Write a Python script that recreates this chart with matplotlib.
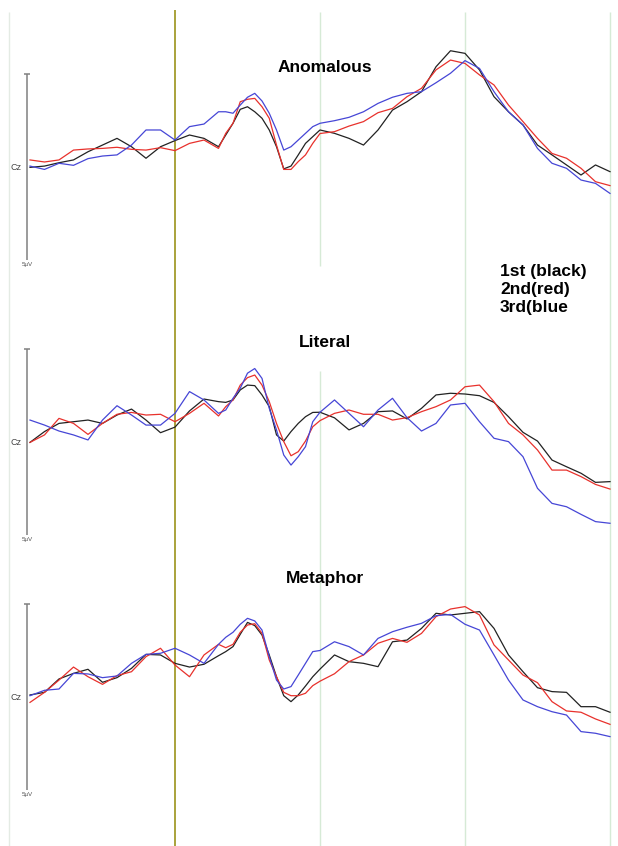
import numpy as np
import matplotlib.pyplot as plt

# ERP grand averages at Cz, one panel per condition (ms, µV);
# denser sampling around the P2/N400 deflections
times = ([-200, -180, -160, -140, -120, -100, -80, -60, -40, -20, 0, 20, 40]
         + [60, 70, 80, 90, 100, 110, 120, 130, 140, 150, 160, 170, 180, 190, 200]
         + [220, 240, 260, 280, 300, 320, 340, 360, 380, 400,
            420, 440, 460, 480, 500, 520, 540, 560, 580, 600])

anomalous_1st = [-0.02, 0.05, 0.23, 0.38, 0.82, 1.18, 1.54, 1.09, 0.47, 1.09, 1.42, 1.72, 1.54,
                 1.09, 1.72, 2.35, 3.10, 3.24, 2.97, 2.62, 1.99, 1.09, -0.10, 0.05, 0.65, 1.27, 1.63, 1.99,
                 1.81, 1.54, 1.18, 1.99, 3.06, 3.51, 4.05, 5.39, 6.25, 6.11,
                 5.22, 3.78, 2.97, 2.26, 1.18, 0.65, 0.11, -0.43, 0.11, -0.25]
anomalous_2nd = [0.38, 0.27, 0.38, 0.91, 0.97, 1.00, 1.06, 0.95, 0.91, 1.04, 0.88, 1.27, 1.45,
                 1.00, 1.81, 2.35, 3.51, 3.64, 3.69, 3.24, 2.62, 1.18, -0.13, -0.13, 0.29, 0.65, 1.27, 1.80,
                 1.90, 2.20, 2.44, 2.92, 3.15, 3.78, 4.23, 5.22, 5.75, 5.57,
                 4.95, 4.41, 3.33, 2.44, 1.54, 0.73, 0.47, -0.07, -0.79, -1.00]
anomalous_3rd = [0.05, -0.13, 0.20, 0.09, 0.45, 0.59, 0.65, 1.18, 1.99, 1.99, 1.45, 2.17, 2.31,
                 2.97, 2.97, 2.89, 3.33, 3.75, 3.96, 3.55, 2.89, 1.99, 0.91, 1.09, 1.45, 1.81, 2.17, 2.35,
                 2.49, 2.67, 2.97, 3.42, 3.75, 3.96, 4.05, 4.53, 5.04, 5.72,
                 5.30, 4.05, 2.97, 2.26, 1.00, 0.20, -0.07, -0.70, -0.88, -1.42]

literal_1st = [-0.02, 0.56, 1.00, 1.09, 1.18, 1.00, 1.45, 1.77, 1.18, 0.50, 0.80, 1.67, 2.31,
               2.17, 2.13, 2.26, 2.80, 3.06, 3.03, 2.53, 1.90, 0.38, 0.05, 0.56, 1.00, 1.36, 1.59, 1.60,
               1.30, 0.65, 1.00, 1.63, 1.67, 1.24, 1.81, 2.53, 2.62, 2.58,
               2.49, 2.13, 1.36, 0.52, 0.05, -0.97, -1.33, -1.68, -2.17, -2.13]
literal_2nd = [-0.02, 0.38, 1.27, 1.00, 0.41, 1.00, 1.49, 1.59, 1.45, 1.49, 1.09, 1.54, 2.08,
               1.40, 1.90, 2.26, 3.06, 3.46, 3.60, 3.06, 2.17, 1.00, 0.02, -0.74, -0.52, 0.05, 0.82, 1.15,
               1.54, 1.72, 1.49, 1.49, 1.18, 1.31, 1.63, 1.90, 2.26, 2.97,
               3.06, 2.17, 1.00, 0.38, -0.43, -1.51, -1.51, -1.86, -2.28, -2.53]
literal_3rd = [1.18, 0.91, 0.59, 0.38, 0.11, 1.18, 1.95, 1.45, 0.91, 0.91, 1.54, 2.71, 2.26,
               1.54, 1.72, 2.35, 2.89, 3.70, 3.95, 3.42, 1.81, 0.65, -0.70, -1.24, -0.79, -0.25, 1.09, 1.60,
               2.26, 1.54, 0.82, 1.72, 2.35, 1.31, 0.59, 1.00, 1.99, 2.08,
               1.09, 0.20, 0.02, -0.79, -2.49, -3.30, -3.48, -3.89, -4.28, -4.37]

metaphor_1st = [0.11, 0.25, 0.97, 1.27, 1.49, 0.79, 1.04, 1.54, 2.29, 2.26, 1.81, 1.61, 1.76,
                2.22, 2.44, 2.71, 3.37, 4.01, 3.84, 3.33, 2.26, 1.09, 0.07, -0.25, 0.11, 0.59, 1.09, 1.50,
                2.26, 1.90, 1.81, 1.63, 2.97, 3.06, 3.69, 4.50, 4.41, 4.50,
                4.59, 3.69, 2.26, 1.36, 0.50, 0.29, 0.25, -0.52, -0.52, -0.82]
metaphor_2nd = [-0.29, 0.25, 0.91, 1.61, 1.09, 0.68, 1.15, 1.36, 2.17, 2.62, 1.72, 1.09, 2.26,
                2.83, 2.65, 2.83, 3.48, 3.87, 3.94, 3.42, 1.99, 1.09, 0.25, 0.07, 0.07, 0.20, 0.61, 0.85,
                1.25, 1.90, 2.26, 2.89, 3.15, 2.94, 3.42, 4.32, 4.73, 4.86,
                4.41, 2.80, 1.99, 1.18, 0.77, -0.25, -0.75, -0.82, -1.18, -1.47]
metaphor_3rd = [0.07, 0.36, 0.43, 1.27, 1.24, 1.04, 1.13, 1.81, 2.29, 2.35, 2.62, 2.26, 1.81,
                2.83, 3.21, 3.48, 3.91, 4.23, 4.09, 3.60, 2.17, 0.91, 0.43, 0.56, 1.18, 1.81, 2.44, 2.50,
                2.97, 2.71, 2.26, 3.15, 3.51, 3.75, 3.96, 4.37, 4.44, 3.91,
                3.60, 2.26, 0.91, -0.16, -0.52, -0.79, -0.97, -1.86, -1.95, -2.13]

conditions = ['Anomalous', 'Literal', 'Metaphor']
waves = [
    (anomalous_1st, anomalous_2nd, anomalous_3rd),
    (literal_1st, literal_2nd, literal_3rd),
    (metaphor_1st, metaphor_2nd, metaphor_3rd),
]
trace_colors = ['#222222', '#e8312c', '#4646d6']
legend_text = '1st (black)\n2nd(red)\n3rd(blue'
scale_uv = 5
markers_ms = [0, 200, 400, 600]

# page geometry (pixels)
W, H = 618, 846
ZERO_PX = 175          # x position of stimulus onset
PX_PER_MS = 0.725
PX_PER_UV = 18.6
T0 = -ZERO_PX / PX_PER_MS
T1 = (W - ZERO_PX) / PX_PER_MS
# (top, bottom, baseline) pixel rows for each panel
panels = [(0, 280, 167), (280, 560, 442), (560, 846, 697)]
title_rows = [68, 342, 578]

fig = plt.figure(figsize=(W / 100, H / 100), dpi=100)

# background layer: time markers spanning all panels
bg = fig.add_axes([0, 0, 1, 1])
bg.set_xlim(T0, T1)
bg.set_ylim(H, 0)
bg.axis('off')
bg.vlines((9 - ZERO_PX) / PX_PER_MS, 12, H, color='#e4ebe4', lw=1.0)
bg.vlines(markers_ms[0], 10, H, color='#a39b2c', lw=1.3)
bg.vlines(markers_ms[1], 12, 266, color='#d6ead6', lw=1.0)
bg.vlines(markers_ms[1], 371, H, color='#d6ead6', lw=1.0)
bg.vlines(markers_ms[2], 12, H, color='#d6ead6', lw=1.0)
bg.vlines(markers_ms[3], 12, H, color='#d6ead6', lw=1.0)

bar_t = (27 - ZERO_PX) / PX_PER_MS
cz_t = (16 - ZERO_PX) / PX_PER_MS

for (top, bot, base), name, traces, ty in zip(panels, conditions, waves, title_rows):
    ax = fig.add_axes([0, 1 - bot / H, 1, (bot - top) / H])
    ax.set_xlim(T0, T1)
    ax.set_ylim((base - bot) / PX_PER_UV, (base - top) / PX_PER_UV)
    ax.axis('off')
    ax.patch.set_alpha(0)

    # calibration bar
    ax.vlines(bar_t, -scale_uv, scale_uv, color='#808080', lw=1.1)
    ax.hlines(scale_uv, bar_t - 4, bar_t + 4, color='#808080', lw=1.1)
    ax.text(cz_t, 0, 'Cz', fontsize=6.5, color='#444444', ha='center', va='center',
            family='Liberation Sans')
    ax.text(bar_t, -scale_uv - 0.25, '5µV', fontsize=4.5, color='#555555',
            ha='center', va='center', family='Liberation Sans')

    for vals, col in zip(traces, trace_colors):
        ax.plot(times, vals, color=col, lw=0.9)

    fig.text(325 / W, 1 - ty / H, name, fontsize=12.5, fontweight='bold',
             family='Liberation Sans', ha='center', va='center')

fig.text(500 / W, 1 - 264 / H, legend_text, fontsize=12.5, fontweight='bold',
         family='Liberation Sans', ha='left', va='top', linespacing=1.27)

fig.savefig('out.png', dpi=100, facecolor='white')
